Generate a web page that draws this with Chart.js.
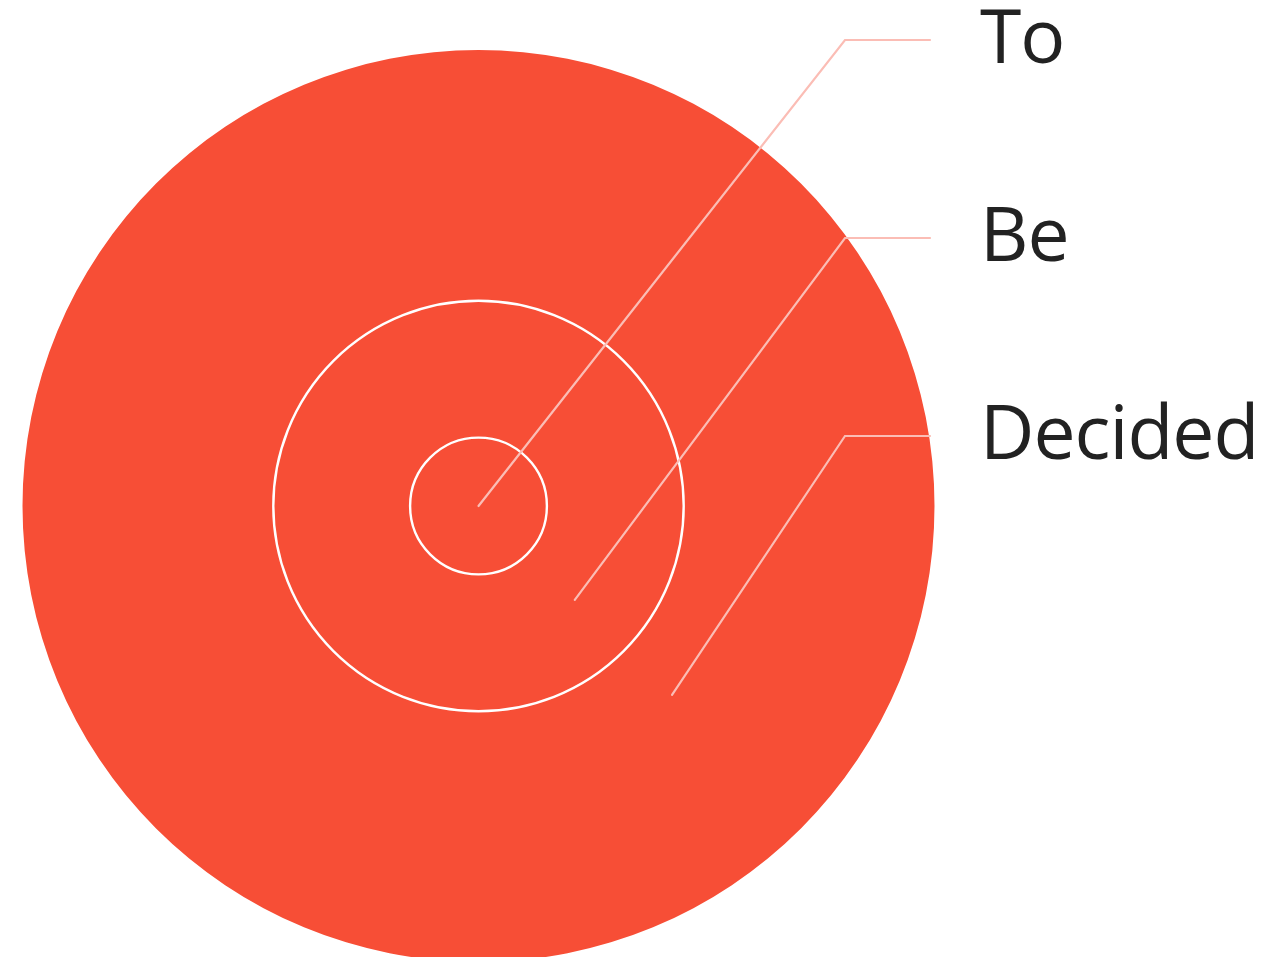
<!DOCTYPE html>
<html>
<head>
<meta charset="utf-8">
<title>To Be Decided</title>
<script src="https://cdn.jsdelivr.net/npm/chart.js@4"></script>
<style>
    html, body { margin: 0; padding: 0; background: #fff; overflow: hidden; }
    #wrap { position: relative; width: 1266px; height: 957px; }
</style>
</head>
<body>
<div id="wrap"><canvas id="circleChart"></canvas></div>
<script>
// Nested circles, innermost first. Values are the circle sizes (% of the outer circle radius).
const labels = ['To', 'Be', 'Decided'];
const sizes = [15, 45, 100];
const ringColor = '#f74e36';

// Doughnut rings are listed outside-in, each weighted by its own thickness
const ringOrder = [2, 1, 0];
const datasets = ringOrder.map(i => ({
    label: labels[i],
    data: [1],
    backgroundColor: ringColor,
    borderWidth: 0,
    weight: sizes[i] - (i > 0 ? sizes[i - 1] : 0)
}));

// White outlines on each inner circle + callout lines with labels
const calloutPlugin = {
    id: 'callouts',
    afterDatasetsDraw(chart) {
        const ctx = chart.ctx;
        const metas = ringOrder.map((_, d) => chart.getDatasetMeta(d).data[0]);
        const cx = metas[0].x;
        const cy = metas[0].y;
        const R = metas[0].outerRadius;

        ctx.save();
        // circle edges between the rings
        ctx.strokeStyle = '#ffffff';
        ctx.lineWidth = 2.4;
        for (let d = 1; d < metas.length; d++) {
            ctx.beginPath();
            ctx.arc(cx, cy, metas[d].outerRadius, 0, Math.PI * 2);
            ctx.stroke();
        }

        // callouts, top label is the innermost circle
        const angle = 44.3 * Math.PI / 180;
        const anchorFrac = [0, 0.295, 0.593];
        const elbowX = 845, endX = 930, textX = 980;
        const firstY = 40, stepY = 198;
        ctx.strokeStyle = '#fbbdb5';
        ctx.lineWidth = 2.2;
        ctx.lineCap = 'round';
        ctx.fillStyle = '#222222';
        ctx.font = '75px "Open Sans", "Noto Sans", sans-serif';
        if ('letterSpacing' in ctx) ctx.letterSpacing = '-1px';
        ctx.textBaseline = 'alphabetic';
        labels.forEach((lab, i) => {
            const ax = cx + Math.cos(angle) * R * anchorFrac[i];
            const ay = cy + Math.sin(angle) * R * anchorFrac[i];
            const ly = firstY + stepY * i;
            ctx.beginPath();
            ctx.moveTo(ax, ay);
            ctx.lineTo(elbowX, ly);
            ctx.lineTo(endX, ly);
            ctx.stroke();
            ctx.fillText(lab, textX, ly + 23);
        });
        ctx.restore();
    }
};

new Chart(document.getElementById('circleChart').getContext('2d'), {
    type: 'doughnut',
    data: { labels: ['value'], datasets: datasets },
    options: {
        responsive: true,
        maintainAspectRatio: false,
        animation: false,
        cutout: 0,
        radius: 456,
        layout: { padding: { left: 0, right: 309, top: 55, bottom: 0 } },
        plugins: {
            legend: { display: false },
            tooltip: { enabled: false }
        },
        events: []
    },
    plugins: [calloutPlugin]
});
</script>
</body>
</html>
